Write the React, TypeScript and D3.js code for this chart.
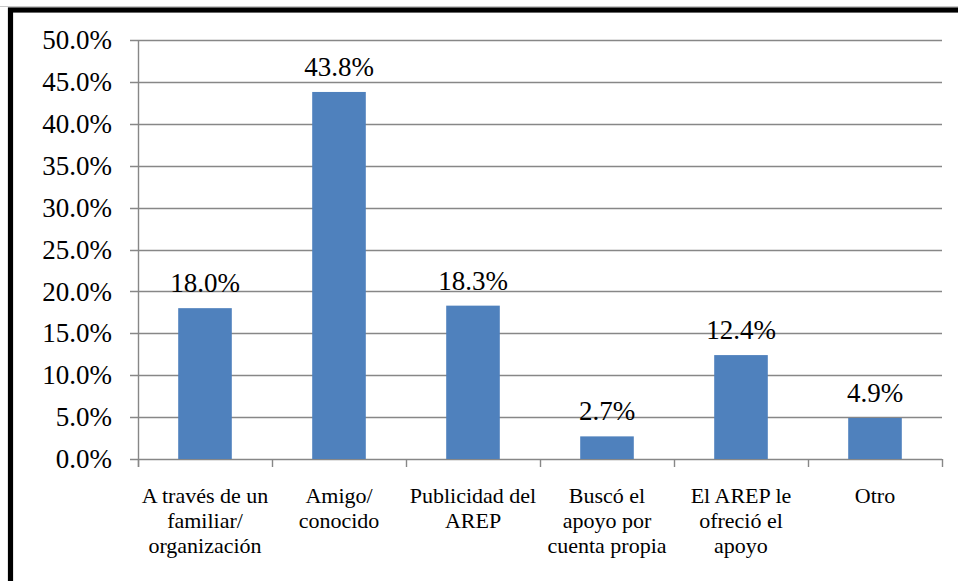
import { useRef, useEffect } from "react";
import * as d3 from "d3";

const categories = [
  "A través de un\nfamiliar/\norganización",
  "Amigo/\nconocido",
  "Publicidad del\nAREP",
  "Buscó el\napoyo por\ncuenta propia",
  "El AREP le\nofreció el\napoyo",
  "Otro",
];
const values = [18.0, 43.8, 18.3, 2.7, 12.4, 4.9];
const yTicks = [0, 5, 10, 15, 20, 25, 30, 35, 40, 45, 50];

const width = 958;
const height = 581;
const margin = { top: 40, right: 16, bottom: 122, left: 138 };
const font = "'Liberation Serif', 'Times New Roman', serif";

const App = () => {
  const ref = useRef<SVGSVGElement>(null);

  useEffect(() => {
    if (!ref.current) return;
    const svg = d3.select(ref.current);
    svg.selectAll("*").remove();

    const x = d3
      .scaleBand()
      .domain(categories)
      .range([margin.left, width - margin.right])
      .padding(0);
    const y = d3
      .scaleLinear()
      .domain([0, 50])
      .range([height - margin.bottom, margin.top]);
    const barW = x.bandwidth() * 0.4;
    const grid = "#878787";

    // outer frame (only top and left visible in the crop)
    svg
      .append("line")
      .attr("x1", 0)
      .attr("x2", width)
      .attr("y1", 6.5)
      .attr("y2", 6.5)
      .attr("stroke", "#c8c8c8")
      .attr("stroke-width", 1);
    svg
      .append("rect")
      .attr("x", 10.5)
      .attr("y", 10)
      .attr("width", 1200)
      .attr("height", 1200)
      .attr("fill", "none")
      .attr("stroke", "#000")
      .attr("stroke-width", 5.2);

    // gridlines
    svg
      .selectAll(".grid")
      .data(yTicks)
      .enter()
      .append("line")
      .attr("class", "grid")
      .attr("x1", margin.left - 8)
      .attr("x2", width - margin.right)
      .attr("y1", (d) => Math.round(y(d)) + 0.5)
      .attr("y2", (d) => Math.round(y(d)) + 0.5)
      .attr("stroke", grid)
      .attr("stroke-width", 1.4);

    // y axis line
    svg
      .append("line")
      .attr("x1", margin.left + 0.5)
      .attr("x2", margin.left + 0.5)
      .attr("y1", y(50))
      .attr("y2", y(0) + 8)
      .attr("stroke", grid)
      .attr("stroke-width", 1.4);

    // x ticks at band edges
    const edges = categories.map((c) => x(c) ?? 0).concat([width - margin.right]);
    svg
      .selectAll(".xtick")
      .data(edges)
      .enter()
      .append("line")
      .attr("class", "xtick")
      .attr("x1", (d) => Math.round(d) + 0.5)
      .attr("x2", (d) => Math.round(d) + 0.5)
      .attr("y1", y(0))
      .attr("y2", y(0) + 8)
      .attr("stroke", grid)
      .attr("stroke-width", 1.4);

    // y tick labels
    svg
      .selectAll(".ylabel")
      .data(yTicks)
      .enter()
      .append("text")
      .attr("class", "ylabel")
      .attr("x", margin.left - 26)
      .attr("y", (d) => y(d))
      .attr("dy", "0.34em")
      .attr("text-anchor", "end")
      .attr("font-family", font)
      .attr("font-size", "27px")
      .attr("fill", "#000")
      .text((d) => `${d.toFixed(1)}%`);

    // bars
    svg
      .selectAll(".bar")
      .data(values)
      .enter()
      .append("rect")
      .attr("class", "bar")
      .attr("x", (_, i) => (x(categories[i]) ?? 0) + (x.bandwidth() - barW) / 2)
      .attr("y", (d) => y(d))
      .attr("width", barW)
      .attr("height", (d) => y(0) - y(d))
      .attr("fill", "#4F81BD");

    // value labels
    svg
      .selectAll(".vlabel")
      .data(values)
      .enter()
      .append("text")
      .attr("class", "vlabel")
      .attr("x", (_, i) => (x(categories[i]) ?? 0) + x.bandwidth() / 2)
      .attr("y", (d) => y(d) - 16)
      .attr("text-anchor", "middle")
      .attr("font-family", font)
      .attr("font-size", "27px")
      .attr("fill", "#000")
      .text((d) => `${d.toFixed(1)}%`);

    // category labels, one tspan per line
    const cat = svg
      .selectAll(".xlabel")
      .data(categories)
      .enter()
      .append("text")
      .attr("class", "xlabel")
      .attr("text-anchor", "middle")
      .attr("font-family", font)
      .attr("font-size", "22px")
      .attr("fill", "#000");
    cat
      .selectAll("tspan")
      .data((d) => d.split("\n").map((line) => ({ line, cx: (x(d) ?? 0) + x.bandwidth() / 2 })))
      .enter()
      .append("tspan")
      .attr("x", (d) => d.cx)
      .attr("y", (_, i) => y(0) + 44 + i * 25)
      .text((d) => d.line);
  }, []);

  return (
    <div style={{ position: "fixed", left: 0, top: 0, width, height, background: "#fff" }}>
      <svg ref={ref} width={width} height={height} style={{ display: "block" }} />
    </div>
  );
};

export default App;
